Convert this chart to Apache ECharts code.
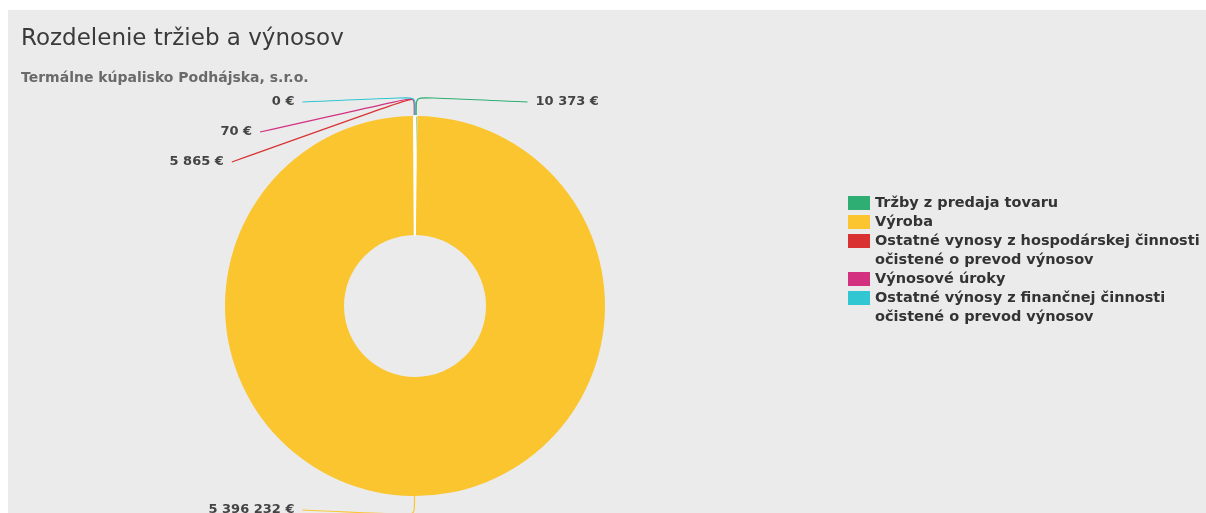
<!DOCTYPE html>
<html>
<head>
<meta charset="utf-8">
<script src="https://cdn.jsdelivr.net/npm/echarts@6/dist/echarts.min.js"></script>
<style>
html,body{margin:0;padding:0;background:#fff;}
#wrap{position:absolute;left:8px;top:10px;width:1198px;height:503px;background:#ebebeb;}
#chart{width:1198px;height:503px;}
</style>
</head>
<body>
<div id="wrap"><div id="chart"></div></div>
<script>
var titleText = 'Rozdelenie tržieb a výnosov';
var subtitleText = 'Termálne kúpalisko Podhájska, s.r.o.';
var categories = [
  'Tržby z predaja tovaru',
  'Výroba',
  'Ostatné vynosy z hospodárskej činnosti\nočistené o prevod výnosov',
  'Výnosové úroky',
  'Ostatné výnosy z finančnej činnosti\nočistené o prevod výnosov'
];
var values = [10373, 5396232, 5865, 70, 0];
var colors = ['#2eae73', '#fbc52f', '#d93131', '#d3307f', '#30c6d2'];

// layout constants (pixels)
var CX = 407, CY = 296, R_IN = 71, R_OUT = 190, STUB = 19;
var LABEL_R = 233, LABEL_DY = 204, LABEL_ROW = 30, LABEL_GAP = 8;

function fmt(v){
  return String(v).replace(/\B(?=(\d{3})+(?!\d))/g, ' ') + ' €';
}

// mid angle (degrees, clockwise from top) of each slice
var total = values.reduce(function(a, b){ return a + b; }, 0);
var mids = [];
(function(){
  var acc = 0;
  values.forEach(function(v){ mids.push((acc + v / 2) / total * 360); acc += v; });
})();
function quadrant(m){ return m < 90 ? 0 : m < 180 ? 1 : m < 270 ? 2 : 3; }
function rankOf(i){
  var q = quadrant(mids[i]);
  var r = 0;
  for (var j = 0; j < mids.length; j++) {
    if (j === i || quadrant(mids[j]) !== q) continue;
    if (q === 0 || q === 2) { if (mids[j] < mids[i]) r++; }
    else { if (mids[j] > mids[i]) r++; }
  }
  return r;
}

function legendBlock(idx, top){
  return {
    orient: 'vertical',
    left: 840,
    top: top,
    padding: 0,
    itemWidth: 22,
    itemHeight: 14,
    itemGap: 0,
    icon: 'rect',
    itemStyle: {borderWidth: 0},
    data: idx.map(function(i){ return categories[i]; }),
    // multi-line names: a leading empty line keeps the icon beside the first line
    formatter: function(name){ return name.indexOf('\n') >= 0 ? '\n' + name : name; },
    textStyle: {fontFamily: 'DejaVu Sans', fontSize: 14.5, fontWeight: 'bold', color: '#333', lineHeight: 19}
  };
}

var chart = echarts.init(document.getElementById('chart'));
chart.setOption({
  backgroundColor: '#ebebeb',
  animation: false,
  title: {
    text: titleText,
    subtext: subtitleText,
    left: 8,
    top: 13,
    itemGap: 20,
    textStyle: {fontFamily: 'DejaVu Sans', fontSize: 23, fontWeight: 'normal', color: '#3a3a3a'},
    subtextStyle: {fontFamily: 'DejaVu Sans', fontSize: 14, fontWeight: 'bold', color: '#6a6a6a'}
  },
  legend: [
    legendBlock([0, 1], 183.5),
    legendBlock([2], 202.5),
    legendBlock([3], 259.5),
    legendBlock([4], 259.5)
  ],
  series: [{
    type: 'pie',
    center: [CX, CY],
    radius: [R_IN, R_OUT],
    startAngle: 90,
    clockwise: true,
    minAngle: 0,
    avoidLabelOverlap: false,
    color: colors,
    itemStyle: {borderColor: '#ffffff', borderWidth: 0},
    label: {
      show: true,
      position: 'outside',
      formatter: function(p){ return fmt(p.value); },
      fontFamily: 'DejaVu Sans',
      fontSize: 13,
      fontWeight: 'bold',
      color: '#444'
    },
    labelLine: {show: true, length: STUB, length2: 100, smooth: 0.2, lineStyle: {width: 1.2}},
    labelLayout: function(params){
      var i = params.dataIndex;
      var m = mids[i] * Math.PI / 180;
      var dir = mids[i] >= 180 ? -1 : 1;
      var top = mids[i] < 90 || mids[i] >= 270;
      var rank = rankOf(i);
      var dy = top ? (-LABEL_DY + rank * LABEL_ROW) : (LABEL_DY - rank * LABEL_ROW);
      var dx = Math.sqrt(Math.max(LABEL_R * LABEL_R - dy * dy, 0));
      var ex = CX + dir * dx, ey = CY + dy;
      var p0 = [CX + Math.sin(m) * R_OUT, CY - Math.cos(m) * R_OUT];
      var p1 = [CX + Math.sin(m) * (R_OUT + STUB), CY - Math.cos(m) * (R_OUT + STUB)];
      return {
        x: ex + dir * LABEL_GAP,
        y: ey,
        align: dir < 0 ? 'right' : 'left',
        verticalAlign: 'middle',
        labelLinePoints: [p0, p1, [ex, ey]]
      };
    },
    data: categories.map(function(c, i){
      var small = values[i] / total < 0.01;
      return {name: c, value: values[i], itemStyle: {borderWidth: small ? 1.5 : 0}};
    })
  }]
});
</script>
</body>
</html>
